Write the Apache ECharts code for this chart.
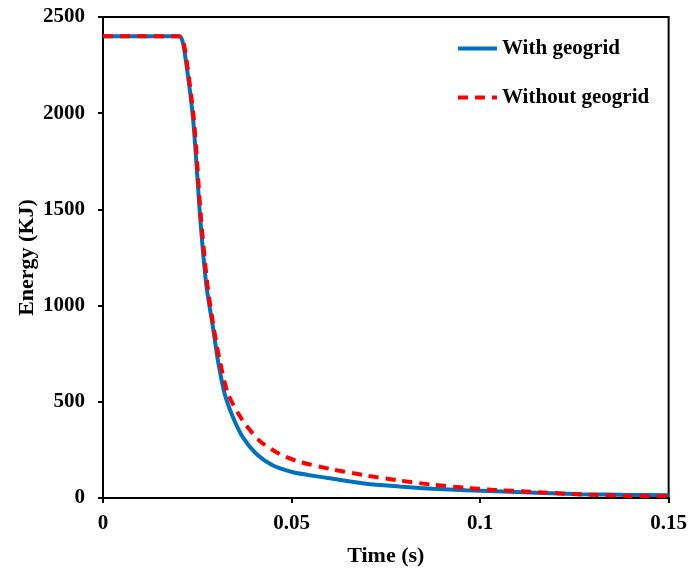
<!DOCTYPE html>
<html>
<head>
<meta charset="utf-8">
<script src="https://cdn.jsdelivr.net/npm/echarts@6/dist/echarts.min.js"></script>
<style>
  html, body { margin: 0; padding: 0; background: #fff; }
  #chart { width: 690px; height: 572px; }
</style>
</head>
<body>
<div id="chart"></div>
<script>
// time (s) and energy (KJ)
const timeWith = [0, 0.010, 0.0200, 0.0208, 0.0217, 0.0239, 0.0258, 0.0274, 0.0292, 0.0305, 0.0323, 0.0345, 0.0371, 0.0407, 0.0451, 0.0504, 0.0543, 0.0610, 0.0698, 0.0786, 0.0874, 0.0962, 0.1042, 0.1150, 0.1270, 0.1400, 0.1500];
const energyWith = [2400, 2400, 2400, 2390, 2312, 1968, 1451, 1107, 883, 711, 539, 418, 315, 229, 169, 134, 120, 100, 74, 60, 48, 40, 35, 27, 20, 16, 14];

const timeWithout = [0, 0.010, 0.0201, 0.0210, 0.0219, 0.0241, 0.0260, 0.0277, 0.0294, 0.0310, 0.0332, 0.0371, 0.0415, 0.0468, 0.0521, 0.0610, 0.0698, 0.0786, 0.0874, 0.0962, 0.1032, 0.1138, 0.1270, 0.1400, 0.1500];
const energyWithout = [2400, 2400, 2400, 2390, 2312, 1968, 1451, 1107, 880, 711, 539, 401, 298, 229, 188, 148, 117, 91, 69, 53, 43, 32, 18, 11, 10];

const seriesNames = ['With geogrid', 'Without geogrid'];

const font = 'Liberation Serif';

function pairs (xs, ys) {
    return xs.map((x, i) => [x, ys[i]]);
}

let myChart = echarts.init(document.getElementById('chart'));
let option = {
    animation: false,
    textStyle: { fontFamily: font },
    grid: { left: 103, right: 20, top: 17, bottom: 71, show: true, borderColor: '#000', borderWidth: 2 },
    legend: {
        orient: 'vertical',
        left: 456,
        top: 38,
        padding: 0,
        itemGap: 28,
        itemWidth: 39,
        itemHeight: 14,
        lineStyle: { width: 4 },
        itemStyle: { opacity: 0 },
        textStyle: { fontFamily: font, fontWeight: 'bold', fontSize: 21, color: '#000' },
        data: seriesNames
    },
    xAxis: {
        type: 'value',
        min: 0,
        max: 0.15,
        interval: 0.05,
        name: 'Time (s)',
        nameLocation: 'middle',
        nameGap: 47,
        nameMoveOverlap: false,
        nameTextStyle: { fontFamily: font, fontWeight: 'bold', fontSize: 22, color: '#000' },
        axisLine: { lineStyle: { color: '#000', width: 2 } },
        axisTick: { inside: false, length: 5, lineStyle: { color: '#000', width: 2 } },
        axisLabel: { fontFamily: font, fontWeight: 'bold', fontSize: 21, color: '#000', margin: 15 },
        splitLine: { show: false }
    },
    yAxis: {
        type: 'value',
        min: 0,
        max: 2500,
        interval: 500,
        name: 'Energy (KJ)',
        nameLocation: 'middle',
        nameGap: 65,
        nameMoveOverlap: false,
        nameTextStyle: { fontFamily: font, fontWeight: 'bold', fontSize: 22, color: '#000' },
        axisLine: { lineStyle: { color: '#000', width: 2 } },
        axisTick: { inside: false, length: 5, lineStyle: { color: '#000', width: 2 } },
        axisLabel: { fontFamily: font, fontWeight: 'bold', fontSize: 21, color: '#000', margin: 18, formatter: v => String(v) },
        splitLine: { show: false }
    },
    series: [
        {
            name: seriesNames[0],
            type: 'line',
            symbol: 'none',
            smooth: 0.25,
            data: pairs(timeWith, energyWith),
            itemStyle: { color: '#0070C0' },
            lineStyle: { color: '#0070C0', width: 4 }
        },
        {
            name: seriesNames[1],
            type: 'line',
            symbol: 'none',
            smooth: 0.25,
            data: pairs(timeWithout, energyWithout),
            itemStyle: { color: '#FF0000' },
            lineStyle: { color: '#FF0000', width: 4, type: [10, 7] }
        }
    ]
};
myChart.setOption(option);
</script>
</body>
</html>
